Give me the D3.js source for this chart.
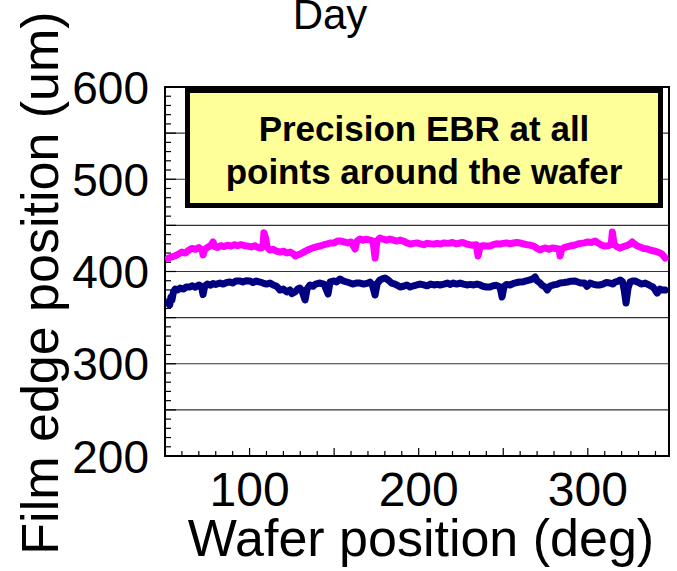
<!DOCTYPE html>
<html>
<head>
<meta charset="utf-8">
<script src="https://cdn.jsdelivr.net/npm/d3@7"></script>
<style>
  body { margin: 0; background: #fff; }
  svg text { font-family: "Liberation Sans", Arial, sans-serif; }
</style>
</head>
<body>
<svg id="chart" width="677" height="571"></svg>
<script>
// wafer angle (deg) and film edge position (um)
var pinkDeg = [52,54,56,58,60,62,64,66,68,70,72,72.5,73.5,75,77,78.4,79.5,81,83,85,87,89,91,93,95,97,99,101,103,105,107,108,108.5,109.5,110.5,112,114,116,118,120,122,124,126,127,128.5,130,132,134,135.7,138,140,141.7,144,146,147.6,150,152,153.5,156,158,160,162.4,163.5,165.3,167,169,171.2,173,174.2,175.3,177.1,179,181,183,185,187,189,191,193,195,197,199,201,203,205,207,209,211,213,215,217,218.5,220,222,224.5,226,228,230,232,234,235.1,236.3,238,240,242.2,244,246,248.1,250,252,254,256,258,259.9,262,264,265.8,268,270,271.8,273,275,277,279,281,283,283.6,284.5,286,288,289.5,292,294,296,298,300,302,304.3,306,308,310.2,312,313.8,314.5,315.5,317,319.1,321,323,325,326.2,327.5,329,330.9,333,335,336.8,338.5,340,342.7,344,345.7];
var pinkVal = [414.5,415.7,417,419,421,420,423,425,424,426,423,418,424,426,428,432,427,426,428,427,428.5,427.5,429,428,429,428,427.6,426.6,428,426,425.5,430,442,436,426,423.3,424,422,421.1,422,420.1,421,419,416.8,418,419,421,423,424.4,426,427,427.6,429,430,430.9,431,433,433.1,432,431,432,424.4,433,435.2,434,435,434.1,433,414.6,433,436.3,435,434,435.2,434,433,434.1,433,431,429.8,430.5,431,430,429,430.5,430,429.8,430.5,429.8,431,430.5,430.9,431.5,430,430.9,431.5,430,429,428.5,429,416.8,427,428,427.6,427.6,429,430,429.8,430.5,431,430,430.9,431.5,430.9,430,429,428.7,427.6,425,423.3,424.5,425.5,424,425.5,425,424.5,416.8,424,426,427,427.6,428.5,429.8,430.5,431,432,431.5,433.1,431,428.7,427.6,428,429,442.8,430,427,425.5,427,428,429.8,432,430,428,426.6,425,424.5,423.3,422.5,422,420.1,418.5,414.6];

var blueDeg = [52,52.8,53.5,54.1,55,56,57.5,59,61,62.5,64.8,66,68,70,71.5,72.5,73.5,75,77,78.4,80,82.5,84.5,86.5,88.4,90,92,94.4,96,98,100.3,102,104,106.2,108,110,112.1,114,116,118,120,122,123.9,125,126.9,128.5,129.8,131,132.8,134,135.7,137.5,139,141.7,144,146.4,147.6,150,151.5,153.5,155.5,157.5,159.4,161,163,165.3,167.5,170,171.2,172.5,174.2,175.5,177.1,178.5,180.1,182,184,186,188,189,191,193,194.9,197,199,200.8,203,205,207,209,211,212.6,215,217,218.5,220.5,222.5,224.5,226.5,228.5,230.5,232.5,234.5,236.3,238,240,242.2,244,246,248.1,249.3,250.5,252,254,256,258,259.9,262,264,265.8,267.5,268.8,270,271.8,273,274.7,276,277.5,279.5,281.5,283.6,286,288,290,292.5,294,296,298,299.5,301.3,303,305,307.2,309,311,313,314.9,316.1,318,319.1,320.5,321.5,322.6,323.8,325,326.5,328,330,331.5,333.9,335.5,337,338.5,339.8,341,342.5,344,345.7];
var blueVal = [365.9,363.7,372,369.1,378,381,379.9,382,381,383.2,383.2,384.5,383,385.4,384,375,384,386.4,385,387,386,387.5,386.4,388,388.6,387.5,389.7,389.7,388.6,390,389.7,388,389.7,388.6,387.5,386.4,387.5,385.4,384,379.9,381,377.8,379.9,376,377.8,381,382.1,379,369.1,381,385.4,384,386.4,387.5,386.4,375.6,388.6,389.7,388.6,391.9,389.7,388.6,387.5,386.4,387.5,387.5,386.4,387.5,388.6,386,374.5,387,390.8,392,393,390.8,387.5,386.4,384.5,383.2,384,385.4,383.2,384.5,385.4,386.4,385.4,384.5,386.4,385.4,386,385.4,386.4,387.5,386,387.5,386.4,387.5,386.4,385.4,386,385.4,386.4,385.4,384,383.2,383.2,384.5,385,383.2,372.4,384,386,385.4,387,388,388.6,389,390,391,392,394,390,387.5,385,383.2,380,384,385.4,386,387.5,388,388.6,389.5,389.7,388.6,387.5,387.5,384,387.5,386.4,385.4,385.4,386.4,388,387.5,386.4,388.6,389.5,390.8,389,380,365.9,382,388.6,389.7,389.7,388,386.4,387.5,386,384.5,383.2,380,376.7,381,380,379.9];

var xDomain = [50, 348];
var yDomain = [200, 600];
var xLabels = [100, 200, 300];
var yLabels = [200, 300, 400, 500, 600];

(function () {
  var svg = d3.select('#chart');
  var m = { left: 165, right: 669, top: 87, bottom: 456 };

  var x = d3.scaleLinear().domain(xDomain).range([m.left, m.right]);
  var y = d3.scaleLinear().domain(yDomain).range([m.bottom, m.top]);

  // grid every 50 um
  var grid = d3.range(250, 600, 50);
  svg.append('g').selectAll('line').data(grid).enter().append('line')
    .attr('x1', m.left).attr('x2', m.right)
    .attr('y1', function(d){ return y(d); }).attr('y2', function(d){ return y(d); })
    .attr('stroke', '#333').attr('stroke-width', 1.2);

  // inward ticks, left axis
  var yMinor = d3.range(200, 601, 10);
  svg.append('g').selectAll('line').data(yMinor).enter().append('line')
    .attr('x1', m.left)
    .attr('x2', function(d){ return m.left + (d % 50 === 0 ? 11 : 6); })
    .attr('y1', function(d){ return y(d); }).attr('y2', function(d){ return y(d); })
    .attr('stroke', '#000').attr('stroke-width', 1.2);

  // inward ticks, bottom axis
  var xMinor = d3.range(60, 348, 10);
  svg.append('g').selectAll('line').data(xMinor).enter().append('line')
    .attr('x1', function(d){ return x(d); }).attr('x2', function(d){ return x(d); })
    .attr('y1', m.bottom)
    .attr('y2', function(d){ return m.bottom - (d % 50 === 0 ? 8 : 5); })
    .attr('stroke', '#000').attr('stroke-width', 1.2);

  // frame
  svg.append('rect')
    .attr('x', m.left).attr('y', m.top)
    .attr('width', m.right - m.left).attr('height', m.bottom - m.top)
    .attr('fill', 'none').attr('stroke', '#000').attr('stroke-width', 2);

  // series
  function series(deg, val, color) {
    var pts = deg.map(function(d, i){ return [d, val[i]]; });
    var line = d3.line()
      .x(function(p){ return x(p[0]); })
      .y(function(p){ return y(p[1]); });
    svg.append('path')
      .attr('d', line(pts))
      .attr('fill', 'none')
      .attr('stroke', color)
      .attr('stroke-width', 7)
      .attr('stroke-linejoin', 'round')
      .attr('stroke-linecap', 'round');
  }
  series(pinkDeg, pinkVal, '#ff00ff');
  series(blueDeg, blueVal, '#000080');

  // annotation box
  svg.append('rect')
    .attr('x', 187.5).attr('y', 90.5)
    .attr('width', 473).attr('height', 115)
    .attr('fill', '#ffff99').attr('stroke', '#000').attr('stroke-width', 5);
  svg.append('text')
    .attr('x', 424).attr('y', 141)
    .attr('text-anchor', 'middle')
    .style('font-size', '35px').style('font-weight', 'bold')
    .text('Precision EBR at all');
  svg.append('text')
    .attr('x', 424).attr('y', 184)
    .attr('text-anchor', 'middle')
    .style('font-size', '35px').style('font-weight', 'bold')
    .text('points around the wafer');

  // tick labels
  svg.append('g').selectAll('text').data(yLabels).enter().append('text')
    .attr('x', 149)
    .attr('y', function(d){ return y(d); })
    .attr('dy', '0.36em')
    .attr('text-anchor', 'end')
    .style('font-size', '46px')
    .text(function(d){ return d; });

  svg.append('g').selectAll('text').data(xLabels).enter().append('text')
    .attr('x', function(d){ return x(d); })
    .attr('y', 506)
    .attr('text-anchor', 'middle')
    .style('font-size', '48px')
    .text(function(d){ return d; });

  // axis titles
  svg.append('text')
    .attr('x', 421).attr('y', 556)
    .attr('text-anchor', 'middle')
    .style('font-size', '52px')
    .text('Wafer position (deg)');

  svg.append('text')
    .attr('transform', 'translate(58,283) rotate(-90)')
    .attr('text-anchor', 'middle')
    .style('font-size', '52px')
    .text('Film edge position (um)');

  svg.append('text')
    .attr('x', 330).attr('y', 29)
    .attr('text-anchor', 'middle')
    .style('font-size', '42px')
    .text('Day');
})();
</script>
</body>
</html>
